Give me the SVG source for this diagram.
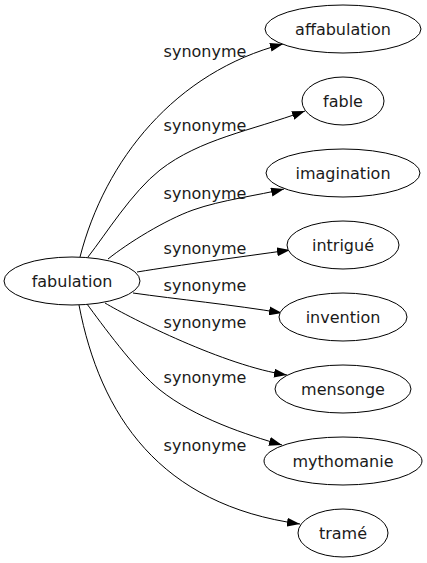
<svg xmlns="http://www.w3.org/2000/svg" width="427" height="563" viewBox="0 0 427 563">
<style>
  .node ellipse { fill: #ffffff; stroke: #000000; stroke-width: 1; }
  .node text, .lbl { font-family: "DejaVu Sans", "Liberation Sans", sans-serif; font-size: 16px; fill: #1a1a1a; text-anchor: middle; }
  .edge { fill: none; stroke: #000000; stroke-width: 1; marker-end: url(#arrow); }
</style>
<defs>
  <marker id="arrow" viewBox="0 0 13 9" refX="13" refY="4.5" markerWidth="13" markerHeight="9" markerUnits="userSpaceOnUse" orient="auto">
    <path d="M0,0 L13,4.5 L0,9 z" fill="#000000"/>
  </marker>
</defs>
<rect width="427" height="563" fill="#ffffff"/>
<g id="connectors">
  <path class="edge" d="M80,257 C105,160 175,72 283,44"/>
  <path class="edge" d="M88,257 C106,234 132,192 160,170 C200,139 250,131 305,111"/>
  <path class="edge" d="M108,259 C128,243 165,220 193,210 C221,200 260,195 284,189"/>
  <path class="edge" d="M137,272 C180,265 240,257 290,250"/>
  <path class="edge" d="M133,293 C175,299 235,305 282,313"/>
  <path class="edge" d="M105,303 C130,318 225,366 287,375"/>
  <path class="edge" d="M87,304 C101,323 135,370 160,390 C195,418 247,435 282,445"/>
  <path class="edge" d="M79,305 C100,415 160,505 300,524"/>
  <text class="lbl" x="205" y="57">synonyme</text>
  <text class="lbl" x="205" y="131">synonyme</text>
  <text class="lbl" x="205" y="199">synonyme</text>
  <text class="lbl" x="205" y="254">synonyme</text>
  <text class="lbl" x="205" y="291">synonyme</text>
  <text class="lbl" x="205" y="328">synonyme</text>
  <text class="lbl" x="205" y="383">synonyme</text>
  <text class="lbl" x="205" y="451">synonyme</text>
</g>
<g id="fabulation" class="node"><ellipse cx="72" cy="281" rx="68" ry="24"/><text x="72" y="287">fabulation</text></g>
<g id="affabulation" class="node"><ellipse cx="343" cy="29" rx="78" ry="24"/><text x="343" y="35">affabulation</text></g>
<g id="fable" class="node"><ellipse cx="343" cy="101" rx="41" ry="24"/><text x="343" y="107">fable</text></g>
<g id="imagination" class="node"><ellipse cx="343" cy="173" rx="77" ry="24"/><text x="343" y="179">imagination</text></g>
<g id="intrigue" class="node"><ellipse cx="343" cy="245" rx="56" ry="24"/><text x="343" y="251">intrigué</text></g>
<g id="invention" class="node"><ellipse cx="343" cy="317" rx="64" ry="24"/><text x="343" y="323">invention</text></g>
<g id="mensonge" class="node"><ellipse cx="343" cy="389" rx="68" ry="24"/><text x="343" y="395">mensonge</text></g>
<g id="mythomanie" class="node"><ellipse cx="343" cy="461" rx="79" ry="24"/><text x="343" y="467">mythomanie</text></g>
<g id="trame" class="node"><ellipse cx="343" cy="533" rx="45" ry="24"/><text x="343" y="539">tramé</text></g>
</svg>
